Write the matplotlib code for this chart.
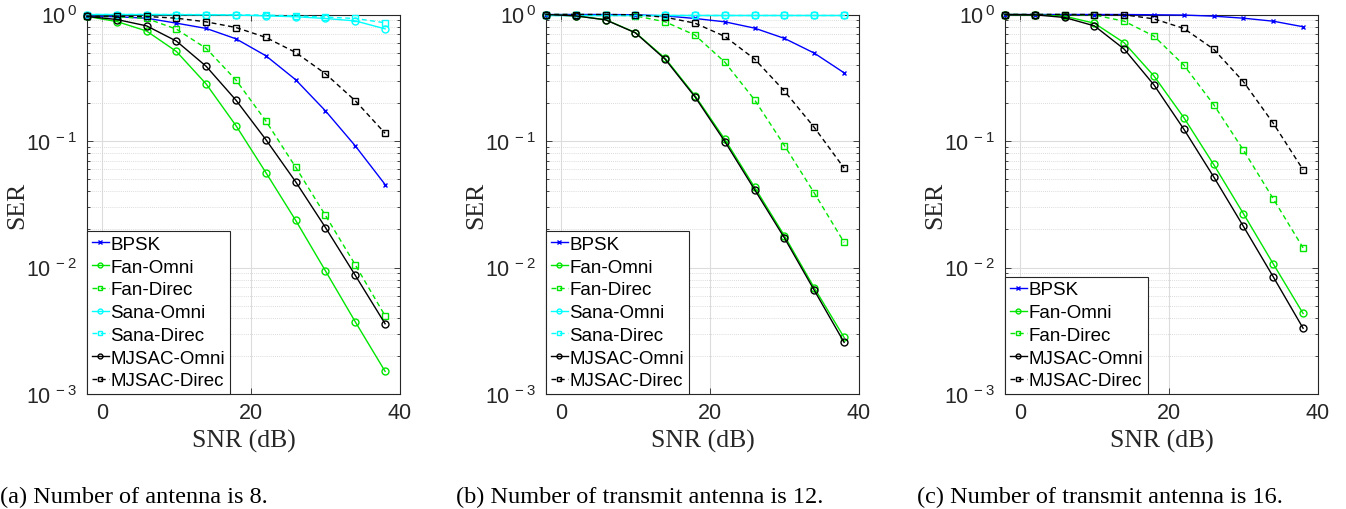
import matplotlib
matplotlib.use("Agg")
import matplotlib.pyplot as plt
from matplotlib.ticker import LogLocator, FixedLocator, NullFormatter, FixedFormatter

plt.rcParams['font.family'] = ['Liberation Sans', 'DejaVu Sans']
plt.rcParams['mathtext.fontset'] = 'custom'
plt.rcParams['mathtext.rm'] = 'Liberation Sans'
plt.rcParams['mathtext.default'] = 'regular'

snr = [-2, 2, 6, 10, 14, 18, 22, 26, 30, 34, 38]

# Panel (a): 8 antennas
bpsk_a = [0.97, 0.96, 0.935, 0.854, 0.776, 0.642, 0.472, 0.305, 0.173, 0.0915, 0.0453]
fan_omni_a = [0.965, 0.88, 0.74, 0.51, 0.282, 0.132, 0.0563, 0.0236, 0.0094, 0.00372, 0.00151]
fan_direc_a = [0.97, 0.96, 0.93, 0.766, 0.539, 0.303, 0.144, 0.0621, 0.0258, 0.0105, 0.00415]
sana_omni_a = [1.0, 1.0, 1.0, 0.998, 0.995, 0.99, 0.975, 0.96, 0.93, 0.89, 0.77]
sana_direc_a = [1.0, 1.0, 1.0, 1.0, 0.998, 0.995, 0.99, 0.975, 0.955, 0.93, 0.86]
mjsac_omni_a = [0.965, 0.913, 0.813, 0.616, 0.389, 0.21, 0.1026, 0.0476, 0.0207, 0.00867, 0.00359]
mjsac_direc_a = [0.97, 0.97, 0.965, 0.935, 0.875, 0.789, 0.659, 0.501, 0.34, 0.208, 0.115]

# Panel (b): 12 transmit antennas
bpsk_b = [1.0, 1.0, 1.0, 0.995, 0.975, 0.93, 0.875, 0.78, 0.647, 0.495, 0.346]
fan_omni_b = [1.0, 0.975, 0.91, 0.72, 0.45, 0.228, 0.103, 0.043, 0.0178, 0.0069, 0.0028]
fan_direc_b = [1.0, 1.0, 0.995, 0.975, 0.875, 0.687, 0.42, 0.211, 0.092, 0.0388, 0.0158]
sana_omni_b = [1.0, 1.0, 1.0, 1.0, 1.0, 1.0, 1.0, 1.0, 1.0, 1.0, 1.0]
sana_direc_b = [1.0, 1.0, 1.0, 1.0, 1.0, 1.0, 1.0, 1.0, 1.0, 1.0, 1.0]
mjsac_omni_b = [1.0, 0.975, 0.907, 0.716, 0.442, 0.223, 0.099, 0.0412, 0.0171, 0.0066, 0.00256]
mjsac_direc_b = [1.0, 1.0, 1.0, 0.995, 0.952, 0.854, 0.671, 0.444, 0.248, 0.128, 0.061]

# Panel (c): 16 transmit antennas
bpsk_c = [1.0, 1.0, 1.0, 1.0, 1.0, 0.995, 0.99, 0.97, 0.935, 0.885, 0.8]
fan_omni_c = [1.0, 0.995, 0.97, 0.853, 0.597, 0.326, 0.153, 0.0652, 0.0266, 0.01067, 0.00433]
fan_direc_c = [1.0, 1.0, 1.0, 0.99, 0.885, 0.674, 0.398, 0.194, 0.0846, 0.0349, 0.0143]
mjsac_omni_c = [1.0, 0.995, 0.947, 0.813, 0.532, 0.277, 0.124, 0.0521, 0.0211, 0.00843, 0.00331]
mjsac_direc_c = [1.0, 1.0, 1.0, 1.0, 0.995, 0.923, 0.776, 0.532, 0.294, 0.138, 0.0592]

captions = ["(a) Number of antenna is 8.",
            "(b) Number of transmit antenna is 12.",
            "(c) Number of transmit antenna is 16."]

BLUE = '#0000ff'
GREEN = '#00e600'
CYAN = '#00ffff'
BLACK = '#000000'
DASH = (0, (3.5, 2.5))

styles = {
    'BPSK': dict(color=BLUE, ls='-', marker='x', ms=3.5),
    'Fan-Omni': dict(color=GREEN, ls='-', marker='o', ms=5),
    'Fan-Direc': dict(color=GREEN, ls=DASH, marker='s', ms=4),
    'Sana-Omni': dict(color=CYAN, ls='-', marker='o', ms=5),
    'Sana-Direc': dict(color=CYAN, ls=DASH, marker='s', ms=4),
    'MJSAC-Omni': dict(color=BLACK, ls='-', marker='o', ms=5),
    'MJSAC-Direc': dict(color=BLACK, ls=DASH, marker='s', ms=4),
}

panels = [
    [('BPSK', bpsk_a), ('Fan-Omni', fan_omni_a), ('Fan-Direc', fan_direc_a),
     ('Sana-Omni', sana_omni_a), ('Sana-Direc', sana_direc_a),
     ('MJSAC-Omni', mjsac_omni_a), ('MJSAC-Direc', mjsac_direc_a)],
    [('BPSK', bpsk_b), ('Fan-Omni', fan_omni_b), ('Fan-Direc', fan_direc_b),
     ('Sana-Omni', sana_omni_b), ('Sana-Direc', sana_direc_b),
     ('MJSAC-Omni', mjsac_omni_b), ('MJSAC-Direc', mjsac_direc_b)],
    [('BPSK', bpsk_c), ('Fan-Omni', fan_omni_c), ('Fan-Direc', fan_direc_c),
     ('MJSAC-Omni', mjsac_omni_c), ('MJSAC-Direc', mjsac_direc_c)],
]

W, H = 1346, 510
fig = plt.figure(figsize=(W / 100, H / 100), dpi=100)

lefts = [87, 546, 1005]
ax_w = 313
ax_top = 15.5
ax_bot = 395
ax_h = ax_bot - ax_top
cap_x = [0, 456, 917]

AXCOL = '#262626'
SERIF = ['Liberation Serif', 'DejaVu Serif']
for i, series in enumerate(panels):
    ax = fig.add_axes([lefts[i] / W, (H - ax_bot) / H, ax_w / W, ax_h / H])
    for name, vals in series:
        st = styles[name]
        ax.plot(snr, vals, color=st['color'], linestyle=st['ls'], marker=st['marker'],
                markersize=st['ms'], markerfacecolor='none', markeredgewidth=1.0,
                linewidth=1.0, label=name, clip_on=False, zorder=3)
    ax.set_yscale('log')
    ax.set_xlim(-2, 40)
    ax.set_ylim(1e-3, 1)
    ax.xaxis.set_major_locator(FixedLocator([0, 20, 40]))
    ax.yaxis.set_major_locator(FixedLocator([1e-3, 1e-2, 1e-1, 1]))
    ax.yaxis.set_major_formatter(FixedFormatter(['$10^{\\,-3}$', '$10^{\\,-2}$', '$10^{\\,-1}$', '$10^{\\,0}$']))
    ax.yaxis.set_minor_locator(LogLocator(base=10, subs=range(2, 10)))
    ax.yaxis.set_minor_formatter(NullFormatter())
    ax.grid(True, which='major', color='#dcdcdc', linewidth=0.8, linestyle='-')
    ax.grid(True, which='minor', axis='y', color='#d0d0d0', linewidth=0.6, linestyle=(0, (1, 1.5)))
    ax.set_axisbelow(True)
    for sp in ax.spines.values():
        sp.set_color(AXCOL)
        sp.set_linewidth(0.8)
    ax.tick_params(which='both', direction='in', top=True, right=True, colors=AXCOL,
                   labelcolor=AXCOL, labelsize=15.5, width=0.6)
    ax.tick_params(which='major', length=4)
    ax.tick_params(axis='y', which='major', pad=7)
    ax.tick_params(axis='x', which='major', pad=6)
    ax.tick_params(which='minor', length=2.5)
    ax.set_xlabel('SNR (dB)', family=SERIF, fontsize=18.5, color=AXCOL)
    ax.xaxis.set_label_coords(0.5, (395 - 430) / ax_h)
    ax.set_ylabel('SER', family=SERIF, fontsize=18.5, color=AXCOL)
    ax.yaxis.set_label_coords((28 - 87) / ax_w, 0.5)
    leg = ax.legend(loc='lower left', fontsize=13.5, borderaxespad=0, handlelength=0.9,
                    handletextpad=0.1, labelspacing=0.3, borderpad=0.25, fancybox=False,
                    framealpha=1, edgecolor=AXCOL, markerscale=0.7)
    leg.get_frame().set_linewidth(0.8)
    leg.set_zorder(5)
    fig.text(cap_x[i] / W, 1 - 503 / H, captions[i], family=SERIF,
             fontsize=17.5, va='baseline', ha='left', color='black')

fig.savefig('out.png', dpi=100)
